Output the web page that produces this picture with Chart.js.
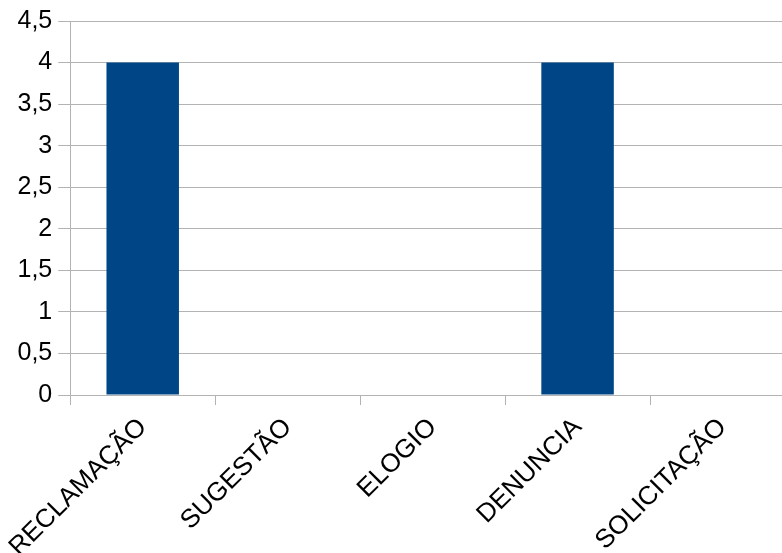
<!DOCTYPE html>
<html>
<head>
<meta charset="utf-8">
<script src="https://cdn.jsdelivr.net/npm/chart.js@4"></script>
<style>
  html, body { margin: 0; padding: 0; background: #fff; overflow: hidden; }
  #chart { display: block; }
</style>
</head>
<body>
<canvas id="chart" width="800" height="553"></canvas>
<script>
const categories = ["RECLAMAÇÃO", "SUGESTÃO", "ELOGIO", "DENUNCIA", "SOLICITAÇÃO"];
const counts = [4, 0, 0, 4, 0];
const yMax = 4.5;
const yStep = 0.5;

const ctx = document.getElementById("chart").getContext("2d");

new Chart(ctx, {
    type: "bar",
    data: {
        labels: categories,
        datasets: [{
            label: "Quantidade",
            data: counts,
            backgroundColor: "#004586",
            borderWidth: 0,
            categoryPercentage: 1,
            barPercentage: 0.5
        }]
    },
    options: {
        responsive: false,
        animation: false,
        layout: { padding: { top: 20, right: 5, left: 0, bottom: 0 } },
        plugins: {
            legend: { display: false },
            tooltip: { enabled: false }
        },
        scales: {
            x: {
                grid: {
                    display: true,
                    drawOnChartArea: false,
                    drawTicks: true,
                    tickLength: 10,
                    color: "#b3b3b3",
                    offset: true
                },
                border: { display: false },
                ticks: {
                    color: "#000",
                    font: { family: "Liberation Sans", size: 26 },
                    minRotation: 45,
                    maxRotation: 45,
                    padding: 7
                },
                afterFit: scale => { scale.height = 158; }
            },
            y: {
                min: 0,
                max: yMax,
                grid: {
                    color: "#b3b3b3",
                    tickLength: 12,
                    lineWidth: 1
                },
                border: { display: true, color: "#b3b3b3" },
                ticks: {
                    stepSize: yStep,
                    color: "#000",
                    font: { family: "Liberation Sans", size: 25 },
                    padding: 6,
                    callback: v => String(v).replace(".", ",")
                },
                afterFit: scale => { scale.width = 70; }
            }
        }
    }
});
</script>
</body>
</html>
